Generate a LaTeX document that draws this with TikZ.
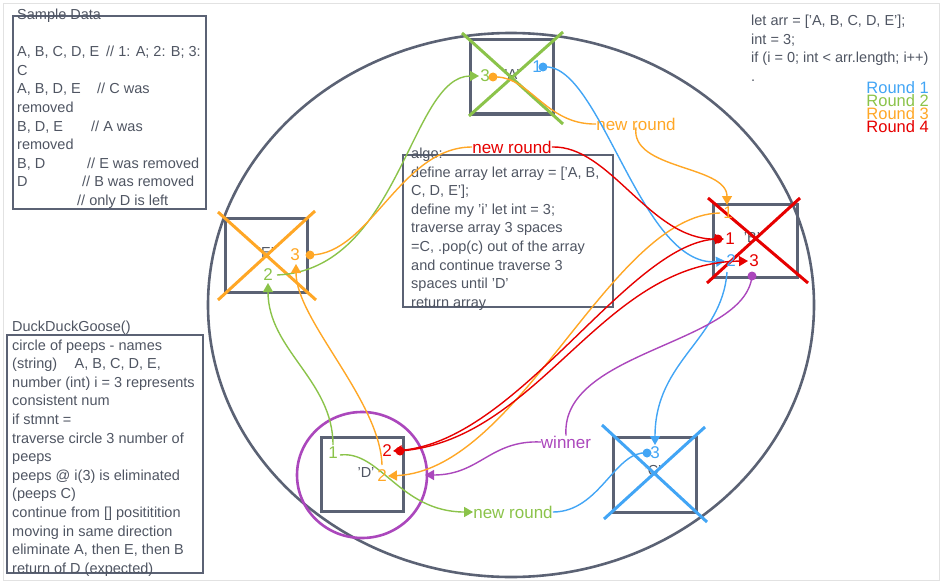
\documentclass[tikz,border=0pt]{standalone}
\usepackage{fontspec}
\setmainfont{Liberation Sans}
\usetikzlibrary{arrows.meta}
\definecolor{cblue}{HTML}{42A5F5}
\definecolor{cgreen}{HTML}{8BC34A}
\definecolor{corange}{HTML}{FFA726}
\definecolor{cred}{HTML}{E60000}
\definecolor{cpurple}{HTML}{AB47BC}
\definecolor{boxgray}{HTML}{5B6274}
\definecolor{txtgray}{HTML}{4F5562}
\definecolor{framegray}{HTML}{E2E2E2}
\begin{document}
\begin{tikzpicture}[x=1pt,y=-1pt,
  txtblock/.style={font=\fontsize{14.5}{18.6}\selectfont, text=txtgray, align=left, anchor=north west, inner sep=0pt},
  frameline/.style={draw=boxgray, line width=2.8pt},
  person/.style={draw=boxgray, line width=3pt},
  pname/.style={font=\fontsize{14.5}{16}\selectfont, text=txtgray, inner sep=0pt},
  numlab/.style={font=\fontsize{17}{18}\selectfont, inner sep=0pt},
  bigx/.style={line width=3pt},
  conn/.style={line width=1.4pt},
  tri/.style={-{Triangle[length=9pt,width=10pt]}},
  lbl/.style={font=\fontsize{17}{18}\selectfont, inner sep=0pt},
  legend/.style={font=\fontsize{16.5}{17}\selectfont, inner sep=0pt, anchor=east}
]
\useasboundingbox (0,0) rectangle (941,583);
\draw[framegray, line width=1pt] (3.5,4) rectangle (939,580);

% big circle of peeps
\draw[boxgray, line width=2.6pt] (511,305) ellipse [x radius=303pt, y radius=272pt];

% text blocks
\draw[frameline] (13,16) rectangle (206,209);
\node[txtblock] (sample) at (17,6.2) {\strut Sample Data\\ \mbox{}\\
\makebox[89pt][l]{A, B, C, D, E}// 1: A; 2: B; 3:\\
C\\
\makebox[80pt][l]{A, B, D, E}// C was\\
removed\\
\makebox[74pt][l]{B, D, E}// A was\\
removed\\
\makebox[70pt][l]{B, D}// E was removed\\
\makebox[65pt][l]{D}// B was removed\\
\hspace*{60pt}// only D is left};

\draw[frameline] (7,335) rectangle (203,573);
\node[txtblock] (ddg) at (12,318.2) {\strut DuckDuckGoose()\\
circle of peeps - names\\
(string)\hspace{1.2em}A, B, C, D, E,\\
number (int) i = 3 represents\\
consistent num\\
if stmnt =\\
traverse circle 3 number of\\
peeps\\
peeps @ i(3) is eliminated\\
(peeps C)\\
continue from [] posititition\\
moving in same direction\\
eliminate A, then E, then B\\
return of D (expected)};

\draw[frameline] (403,155) rectangle (613,307);
\node[txtblock] (algo) at (411,145.2) {\strut algo:\\
define array let array = ['A, B,\\
C, D, E'];\\
define my 'i' let int = 3;\\
traverse array 3 spaces\\
=C, .pop(c) out of the array\\
and continue traverse 3\\
spaces until 'D'\\
return array};

\node[txtblock] (code) at (751,12.2) {\strut let arr = ['A, B, C, D, E'];\\
int = 3;\\
if (i = 0; int < arr.length; i++)\\
.};

% legend
\node[legend, text=cblue] (r1) at (929,88) {Round 1};
\node[legend, text=cgreen] (r2) at (929,101) {Round 2};
\node[legend, text=corange] (r3) at (929,114) {Round 3};
\node[legend, text=cred] (r4) at (929,127) {Round 4};

% persons
\draw[person] (470,40) rectangle (553,114);
\draw[person] (225,218) rectangle (307,292);
\draw[person] (713,204) rectangle (797,277);
\draw[person] (613,437) rectangle (696,512);
\draw[person] (321,437) rectangle (403,511);
\node[pname] (pA) at (512,75) {'A'};
\node[pname] (pE) at (266,253) {'E'};
\node[pname] (pB) at (752,238) {'B'};
\node[pname] (pC) at (653,471) {'C'};
\node[pname] (pD) at (366,473) {'D'};

% crosses
\draw[bigx, cgreen] (462,33) -- (563,124) (563,32) -- (469,116);
\draw[bigx, corange] (218,212) -- (316,300) (315,211) -- (218,300);
\draw[bigx, cred] (708,198) -- (808,283) (800,198) -- (707,283);
\draw[bigx, cblue] (602,425) -- (707,522) (705,427) -- (604,519);

% winner circle
\draw[cpurple, line width=2.6pt] (362,475) ellipse [x radius=65pt, y radius=63pt];

% labels on connectors
\node[lbl, text=corange] (nrOrange) at (636,124) {new round};
\node[lbl, text=cred] (nrRed) at (512,147) {new round};
\node[lbl, text=cgreen] (nrGreen) at (513,512) {new round};
\node[lbl, text=cpurple] (winner) at (566,442) {winner};

% ports
\coordinate (aBlueDot) at (543,67);
\coordinate (aOrgDot) at (493,77);
\coordinate (aGreenIn) at (479,76);
\coordinate (eOrgDot) at (310,255);
\coordinate (eOrgIn) at (296,264);
\coordinate (eGreenIn) at (268,283);
\coordinate (eGreenOut) at (277,275);
\coordinate (bOrgIn) at (727,205);
\coordinate (bOrgOut) at (720,213);
\coordinate (bRedIn) at (724,239);
\coordinate (bRedDot) at (718,239);
\coordinate (bBlueIn) at (725,261);
\coordinate (bBlueOut) at (727,272);
\coordinate (bRedThree) at (748,261);
\coordinate (bPurDot) at (752,276);
\coordinate (cBlueIn) at (655,445);
\coordinate (cBlueDot) at (647,453);
\coordinate (dGreenUp) at (333,445);
\coordinate (dGreenRt) at (340,455);
\coordinate (dRedIn) at (393,451);
\coordinate (dRedDot) at (400,451);
\coordinate (dOrgIn) at (388,476);
\coordinate (dOrgUp) at (382,465);
\coordinate (dPurIn) at (425,475);

% Round 1 (blue)
\draw[conn, cblue, tri] (aBlueDot) .. controls (600,60) and (640,268) .. (bBlueIn);
\draw[conn, cblue, tri] (bBlueOut) .. controls (722,340) and (655,360) .. (cBlueIn);
\draw[conn, cblue] (cBlueDot) .. controls (615,450) and (600,512) .. (nrGreen.east);
\fill[cblue] (aBlueDot) circle (4.5pt);
\fill[cblue] (cBlueDot) circle (4.5pt);

% Round 2 (green)
\draw[conn, cgreen, tri] (eGreenOut) .. controls (400,270) and (410,76) .. (aGreenIn);
\draw[conn, cgreen, tri] (dGreenUp) .. controls (333,380) and (268,350) .. (eGreenIn);
\draw[conn, cgreen, tri] (dGreenRt) .. controls (380,450) and (400,512) .. (nrGreen.west);

% Round 3 (orange)
\draw[conn, corange] (aOrgDot) .. controls (530,75) and (545,125) .. (nrOrange.west);
\draw[conn, corange, tri] ([yshift=3pt]nrOrange.south) .. controls (630,170) and (727,165) .. (bOrgIn);
\draw[conn, corange, tri] (bOrgOut) .. controls (610,215) and (520,470) .. (dOrgIn);
\draw[conn, corange, tri] (dOrgUp) .. controls (380,400) and (296,320) .. (eOrgIn);
\draw[conn, corange] (eOrgDot) .. controls (370,255) and (400,147) .. (nrRed.west);
\fill[corange] (aOrgDot) circle (4.5pt);
\fill[corange] (eOrgDot) circle (4.5pt);

% Round 4 (red)
\draw[conn, cred, tri] (nrRed.east) .. controls (610,145) and (650,240) .. (bRedIn);
\draw[conn, cred, tri] (bRedDot) .. controls (630,240) and (520,440) .. (dRedIn);
\draw[conn, cred, tri] (dRedDot) .. controls (540,440) and (600,263) .. (bRedThree);
\fill[cred] (bRedDot) circle (4.5pt);
\fill[cred] (dRedDot) circle (4.5pt);

% winner (purple)
\draw[conn, cpurple] (bPurDot) .. controls (745,345) and (560,350) .. (winner.north);
\draw[conn, cpurple, tri] (winner.west) .. controls (490,440) and (480,475) .. (dPurIn);
\fill[cpurple] (bPurDot) circle (4.5pt);

% step numbers
\node[numlab, text=cblue] (nA1) at (537,67) {1};
\node[numlab, text=cgreen] (nA3) at (485,76) {3};
\node[numlab, text=corange] (nE3) at (295,255) {3};
\node[numlab, text=cgreen] (nE2) at (268,275) {2};
\node[numlab, text=corange] (nB1) at (728,213) {1};
\node[numlab, text=cred] (nBr1) at (730,239) {1};
\node[numlab, text=cblue] (nB2) at (731,261) {2};
\node[numlab, text=cred] (nB3) at (754,261) {3};
\node[numlab, text=cblue] (nC3) at (655,453) {3};
\node[numlab, text=cgreen] (nD1) at (333,453) {1};
\node[numlab, text=cred] (nD2r) at (387,451) {2};
\node[numlab, text=corange] (nD2o) at (382,476) {2};
\end{tikzpicture}
\end{document}
